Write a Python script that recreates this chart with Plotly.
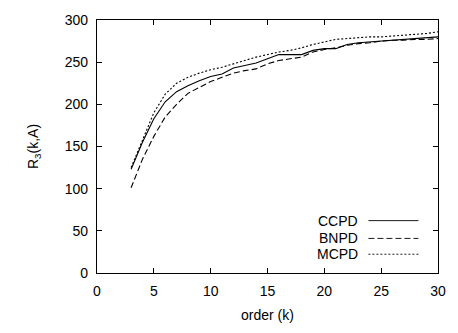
import plotly.graph_objects as go

order = list(range(3, 31))
ccpd = [123, 155, 183, 203, 215, 222, 228, 233, 236, 243, 246, 249, 254, 259, 259, 259, 264, 266, 266, 271, 273, 274, 275, 276, 277, 278, 279, 280]
bnpd = [101, 135, 162, 185, 200, 213, 220, 227, 232, 237, 240, 242, 248, 252, 254, 256, 262, 265, 267, 270, 272, 273, 275, 276, 276, 277, 277, 278]
mcpd = [125, 158, 190, 212, 225, 232, 237, 241, 244, 248, 252, 256, 259, 262, 264, 267, 271, 274, 277, 278, 279, 280, 280, 281, 282, 283, 284, 286]

names = ["CCPD", "BNPD", "MCPD"]
dashes = ["solid", "6px,3px", "2px,2px"]
series = [ccpd, bnpd, mcpd]

fig = go.Figure()
for n, d, s in zip(names, dashes, series):
    fig.add_trace(go.Scatter(x=order, y=s, mode="lines", name=n,
                             line=dict(color="black", width=1.1, dash=d),
                             showlegend=False))

# custom legend (text left, line sample right)
leg_y = [222, 240, 256]
for n, d, yy in zip(names, dashes, leg_y):
    yp = 1 - (yy - 19) / 256
    fig.add_annotation(x=(365 - 97) / 348, y=yp, xref="paper", yref="paper",
                       text=n, showarrow=False, xanchor="right", yanchor="middle",
                       font=dict(size=14, color="black"))
    fig.add_shape(type="line", xref="paper", yref="paper",
                  x0=(374 - 97) / 348, x1=(425 - 97) / 348, y0=yp, y1=yp,
                  line=dict(color="black", width=0.9, dash=d))

axis_common = dict(showline=True, linecolor="black", linewidth=1.2, mirror="ticks",
                   ticks="inside", ticklen=5, tickcolor="black", showgrid=False,
                   zeroline=False, tickfont=dict(size=14, color="black"),
                   ticklabelstandoff=5)
fig.update_xaxes(range=[0, 30], dtick=5, title=dict(text="order (k)", font=dict(size=14, color="black"), standoff=12),
                 **axis_common)
fig.update_yaxes(range=[0, 300], dtick=50, title=dict(text="R<sub>3</sub>(k,A)", font=dict(size=14, color="black"), standoff=22),
                 **axis_common)
fig.update_layout(width=458, height=333, margin=dict(l=97, r=13, t=19, b=58),
                  paper_bgcolor="white", plot_bgcolor="white",
                  font=dict(family="Liberation Sans, Arial, sans-serif", size=14, color="black"))
fig.write_html("out.html")
